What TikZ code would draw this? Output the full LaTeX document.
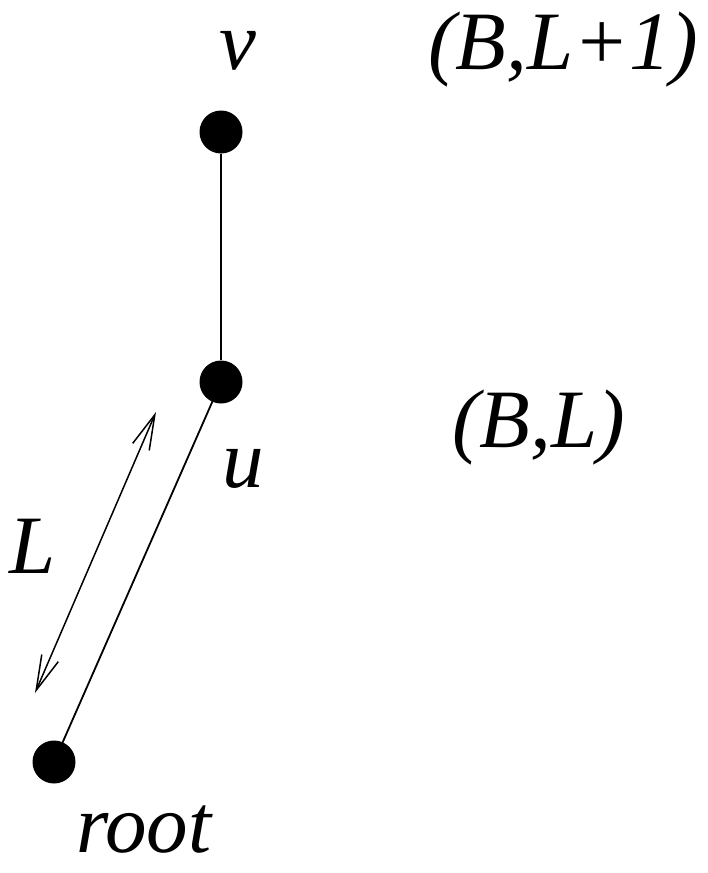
\documentclass[tikz,border=0pt]{standalone}
\usepackage{fontspec}
\setmainfont{Liberation Serif}
\usetikzlibrary{arrows.meta}

\begin{document}
\begin{tikzpicture}[
  x=1pt, y=-1pt,
  dot/.style={circle, fill=black, inner sep=0pt, minimum size=43pt},
  lbl/.style={anchor=base west, inner sep=0pt, text depth=0pt, font=\itshape\fontsize{83}{96}\selectfont},
  edge/.style={line width=1.8pt},
  span/.style={{Straight Barb[length=35pt,width=18pt]}-{Straight Barb[length=35pt,width=18pt]}, line width=1.5pt}
]
\useasboundingbox (0,0) rectangle (707,873);

% vertices
\node[dot] (v) at (221,132) {};
\node[dot] (u) at (221,382) {};
\node[dot] (root) at (54,762) {};

% labels
\node[lbl] (vname) at (219,69) {v};
\node[lbl] (vtag) at (428,69) {(B,L+1)};
\node[lbl] (uname) at (222,487) {u};
\node[lbl] (utag) at (452,447) {(B,L)};
\node[lbl] (rname) at (76,852) {root};
\node[lbl] (len) at (9,573) {L};

% edges
\draw[edge] (v) -- (u);
\draw[edge] (u.center) -- (root.center);

% length of the path
\coordinate (top) at (156,412);
\coordinate (bot) at (35,693);
\draw[span] (top) -- (bot);
\end{tikzpicture}
\end{document}
